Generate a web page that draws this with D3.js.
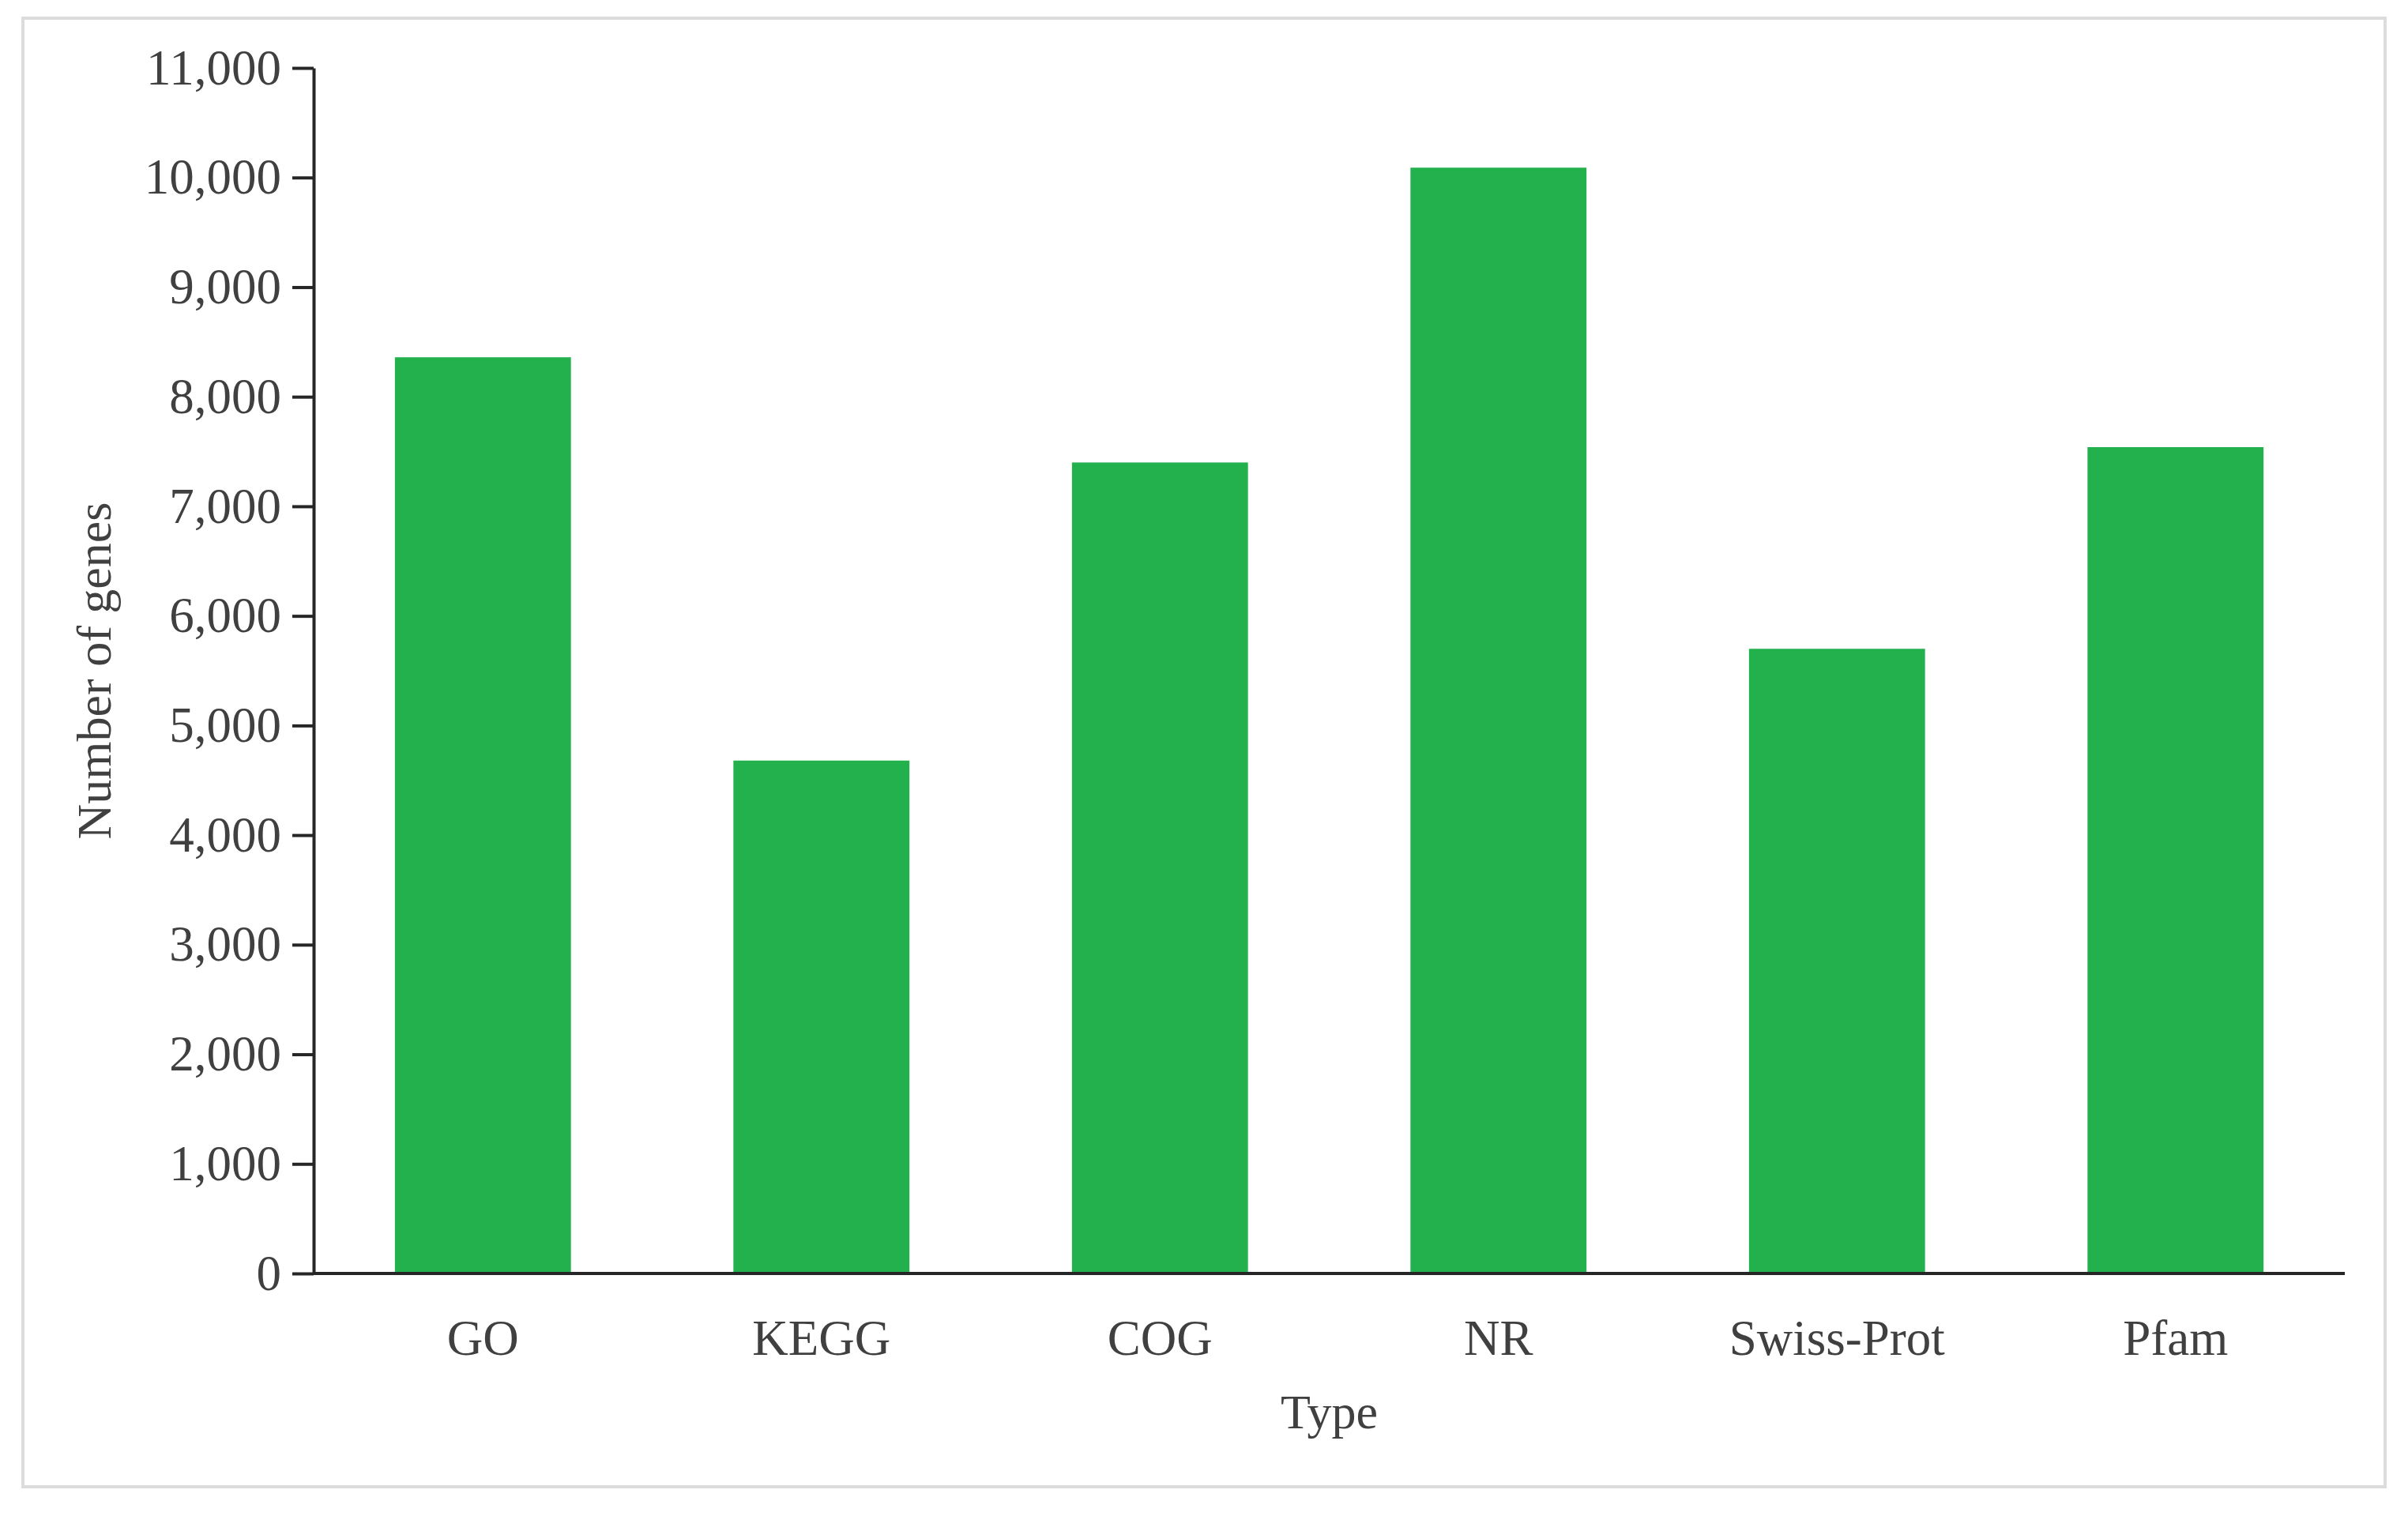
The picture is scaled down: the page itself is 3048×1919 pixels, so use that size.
<!DOCTYPE html>
<html lang="en">
<head>
    <meta charset="UTF-8">
    <title>Number of genes by annotation type</title>
    <script src="https://d3js.org/d3.v7.min.js"></script>
    <style>
        body { margin: 0; background: #fff; }
        text {
            font-family: "Liberation Serif", "Times New Roman", serif;
            fill: #404040;
        }
        .axis path, .axis line {
            stroke: #262626;
            stroke-width: 4px;
        }
    </style>
</head>
<body>

<svg width="3048" height="1919"></svg>

<script>
    // Data
    const types = ["GO", "KEGG", "COG", "NR", "Swiss-Prot", "Pfam"];
    const genes = [8360, 4680, 7400, 10090, 5700, 7540];
    const yTicks = [0, 1000, 2000, 3000, 4000, 5000, 6000, 7000, 8000, 9000, 10000, 11000];

    const width = 3048;
    const height = 1919;
    const margin = { top: 86, right: 80, bottom: 307, left: 397 };

    const svg = d3.select("svg");

    // light frame round the figure
    svg.append("rect")
        .attr("x", 29)
        .attr("y", 23)
        .attr("width", 2990)
        .attr("height", 1859)
        .attr("fill", "#fff")
        .attr("stroke", "#dcdcdc")
        .attr("stroke-width", 4);

    const x = d3.scaleBand()
        .domain(types)
        .range([margin.left, width - margin.right])
        .paddingInner(0.48)
        .paddingOuter(0.24);

    const y = d3.scaleLinear()
        .domain([0, 11000])
        .range([height - margin.bottom, margin.top]);

    // Bars
    svg.selectAll(".bar")
        .data(types)
        .enter()
        .append("rect")
        .attr("class", "bar")
        .attr("x", d => x(d))
        .attr("width", x.bandwidth())
        .attr("y", (d, i) => y(genes[i]))
        .attr("height", (d, i) => y(0) - y(genes[i]))
        .attr("fill", "#23b14d");

    // Y axis
    const yAxis = svg.append("g")
        .attr("class", "axis")
        .attr("transform", `translate(${margin.left},0)`)
        .call(d3.axisLeft(y)
            .tickValues(yTicks)
            .tickFormat(d3.format(","))
            .tickSize(27)
            .tickSizeOuter(0)
            .tickPadding(14));
    yAxis.selectAll("text").attr("font-size", "63px");

    // X axis (line only, labels under it)
    const xAxis = svg.append("g")
        .attr("class", "axis")
        .attr("transform", `translate(0,${y(0)})`)
        .call(d3.axisBottom(x)
            .tickSize(0)
            .tickSizeOuter(0)
            .tickPadding(58));
    xAxis.selectAll("text").attr("font-size", "63px");
    xAxis.select(".domain").attr("d", `M${margin.left},0H${width - margin.right}`);

    // Axis titles
    svg.append("text")
        .attr("x", (margin.left + width - margin.right) / 2)
        .attr("y", 1808)
        .attr("text-anchor", "middle")
        .attr("font-size", "62px")
        .text("Type");

    svg.append("text")
        .attr("transform", `translate(140,${(y(0) + y(11000)) / 2}) rotate(-90)`)
        .attr("text-anchor", "middle")
        .attr("font-size", "62px")
        .text("Number of genes");
</script>

</body>
</html>
